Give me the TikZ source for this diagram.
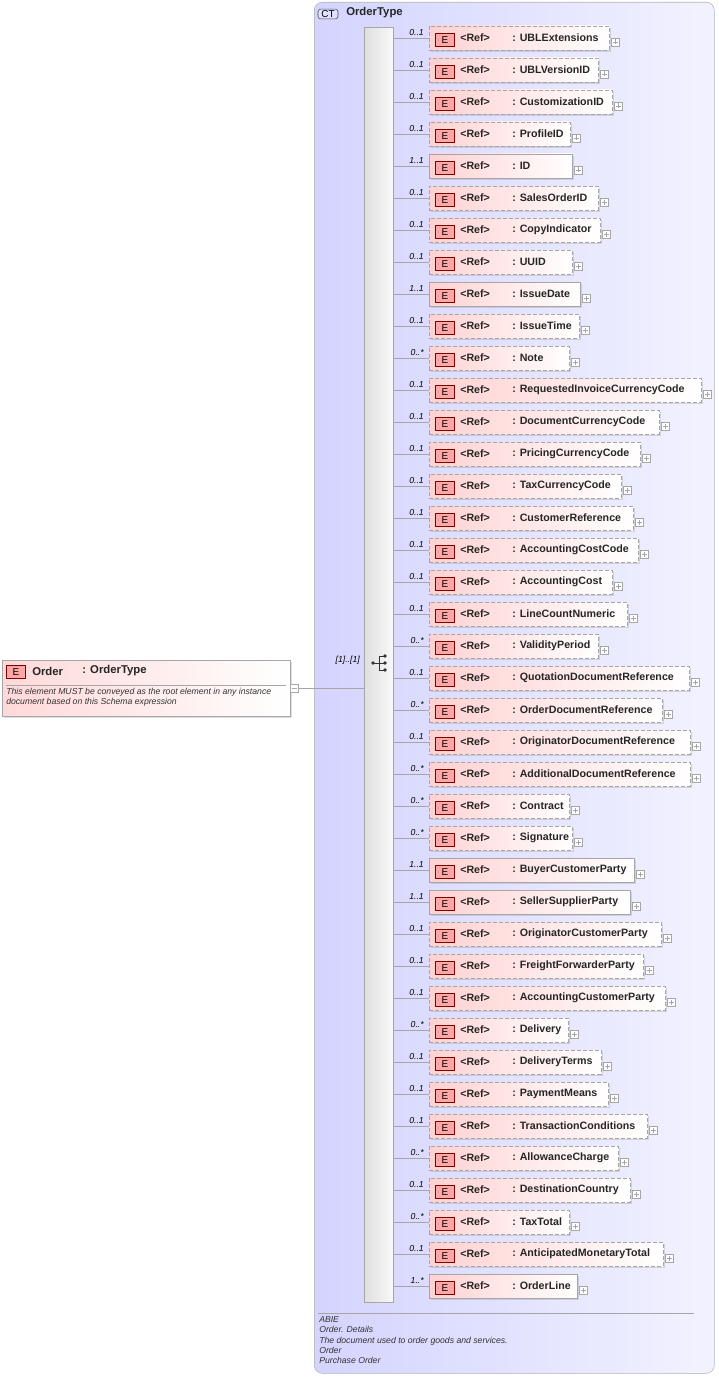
\documentclass[tikz,border=0pt]{standalone}
\usepackage{fontspec}
\setmainfont{Liberation Sans}
\usetikzlibrary{shadows}
\begin{document}
\begin{tikzpicture}[x=0.75pt,y=-0.75pt,
  elem/.style={draw=gray!70,left color=red!18,right color=white,inner sep=0pt,minimum height=18pt,anchor=west,drop shadow={opacity=0.25,shadow xshift=1.2pt,shadow yshift=-1.2pt}},
  opt/.style={dashed,dash pattern=on 3pt off 1.5pt},
  badge/.style={draw=red!50!black,fill=red!35,inner sep=0pt,minimum width=14pt,minimum height=10pt,font=\fontsize{7.5}{8}\selectfont},
  lbl/.style={font=\bfseries\fontsize{8}{9}\selectfont,anchor=west,inner sep=0pt,text=black!85},
  mult/.style={font=\itshape\fontsize{6.5}{7}\selectfont,anchor=east,inner sep=0pt},
  plus/.style={draw=gray!70,fill=white,minimum size=6pt,inner sep=0pt},
  conn/.style={draw=gray!70,line width=0.5pt}]
\useasboundingbox (0,0) rectangle (718,1377);
% complex type box
\node[draw=gray!60,rounded corners=6pt,left color=blue!17,right color=blue!5,minimum width=300pt,minimum height=1028.25pt,anchor=north west,inner sep=0pt] (ct) at (314,2) {};
\node[draw=black!70,rounded corners=2pt,fill=blue!12,font=\fontsize{7.5}{8}\selectfont,inner sep=1pt,minimum width=15pt] (ctb) at (328,14) {CT};
\node[lbl,font=\bfseries\fontsize{8.5}{9}\selectfont] (ctn) at (346,13) {OrderType};
% sequence bar
\node[draw=gray!70,left color=gray!25,right color=gray!5,minimum width=21.75pt,minimum height=956.25pt,anchor=north west,inner sep=0pt] (bar) at (364,27) {};
% sequence icon
\coordinate (sq) at (380,663);
\fill[black!80] (373,663) circle (1.8);
\draw[black!80,line width=0.7pt] (373,663)--(379,663) (379,656)--(379,670) (379,656)--(385,656) (379,663)--(385,663) (379,670)--(385,670);
\fill[black!80] (385,656) circle (1.8) (385,663) circle (1.8) (385,670) circle (1.8);
% elements
\foreach \n/\r/\m/\s [count=\i] in {
UBLExtensions/609/0..1/o, UBLVersionID/598/0..1/o, CustomizationID/612/0..1/o, ProfileID/570/0..1/o,
ID/572/1..1/r, SalesOrderID/598/0..1/o, CopyIndicator/600/0..1/o, UUID/572/0..1/o,
IssueDate/580/1..1/r, IssueTime/579/0..1/o, Note/569/0..*/o, RequestedInvoiceCurrencyCode/701/0..1/o,
DocumentCurrencyCode/659/0..1/o, PricingCurrencyCode/640/0..1/o, TaxCurrencyCode/621/0..1/o,
CustomerReference/633/0..1/o, AccountingCostCode/638/0..1/o, AccountingCost/612/0..1/o,
LineCountNumeric/627/0..1/o, ValidityPeriod/598/0..*/o, QuotationDocumentReference/689/0..1/o,
OrderDocumentReference/662/0..*/o, OriginatorDocumentReference/690/0..1/o,
AdditionalDocumentReference/690/0..*/o, Contract/569/0..*/o, Signature/572/0..*/o,
BuyerCustomerParty/634/1..1/r, SellerSupplierParty/630/1..1/r, OriginatorCustomerParty/661/0..1/o,
FreightForwarderParty/643/0..1/o, AccountingCustomerParty/665/0..1/o, Delivery/568/0..*/o,
DeliveryTerms/601/0..1/o, PaymentMeans/608/0..1/o, TransactionConditions/647/0..1/o,
AllowanceCharge/618/0..*/o, DestinationCountry/630/0..1/o, TaxTotal/569/0..*/o,
AnticipatedMonetaryTotal/663/0..1/o, OrderLine/577/1..*/r}{
  \pgfmathsetmacro{\y}{38+32*(\i-1)}
  \pgfmathsetmacro{\w}{(\r-429)*0.75}
  \if o\s
    \node[elem,opt,minimum width=\w pt] (e\i) at (429,\y) {};
  \else
    \node[elem,minimum width=\w pt] (e\i) at (429,\y) {};
  \fi
  \node[badge] (b\i) at (445,\y+2) {E};
  \node[lbl] (r\i) at (460,\y) {<Ref>};
  \node[lbl] (n\i) at (512,\y) {: \n};
  \node[plus] (p\i) at (\r+6,\y+4) {};
  \draw[gray!70,line width=0.4pt] (\r+3.5,\y+4)--(\r+8.5,\y+4) (\r+6,\y+1.5)--(\r+6,\y+6.5);
  \node[mult] (m\i) at (424,\y-5) {\m};
  \draw[conn] (bar.east |- e\i.west) -- (e\i.west);
}
% Order element
\node[draw=gray!70,left color=red!15,right color=white,minimum width=216pt,minimum height=42pt,anchor=north west,inner sep=0pt,drop shadow={opacity=0.25,shadow xshift=1.2pt,shadow yshift=-1.2pt}] (order) at (2,660) {};
\node[badge] (ob) at (16,672) {E};
\node[lbl,font=\bfseries\fontsize{8.5}{9}\selectfont] (on) at (32,671) {Order};
\node[lbl,font=\bfseries\fontsize{8.5}{9}\selectfont] (ot) at (82,671) {: OrderType};
\draw[gray!70] (6,685)--(286,685);
\node[font=\itshape\fontsize{6.5}{7.5}\selectfont,anchor=north west,align=left,inner sep=0pt,text=black!80] (od) at (6,688) {This element MUST be conveyed as the root element in any instance\\document based on this Schema expression};
\node[plus] (om) at (294,688) {};
\draw[gray!70,line width=0.4pt] (291.5,688)--(296.5,688);
\draw[conn] (om.east) -- (bar.west |- om.east);
\node[mult] (sm) at (360,660) {[1]..[1]};
% footer
\draw[gray!70] (318,1313)--(694,1313);
\node[font=\itshape\fontsize{6.5}{7.8}\selectfont,anchor=north west,align=left,inner sep=0pt,text=black!80] (ft) at (319,1316) {ABIE\\Order. Details\\The document used to order goods and services.\\Order\\Purchase Order};
\end{tikzpicture}
\end{document}
